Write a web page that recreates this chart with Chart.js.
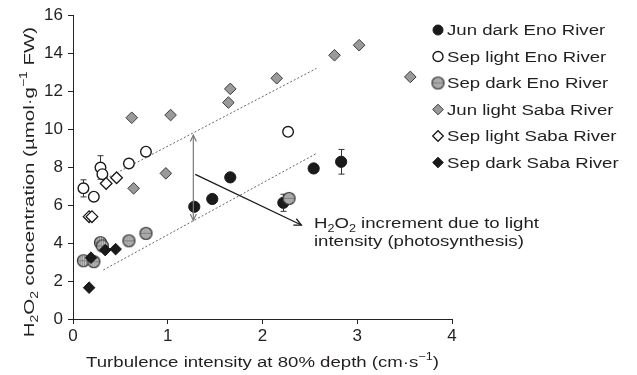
<!DOCTYPE html>
<html>
<head>
<meta charset="utf-8">
<script src="https://cdn.jsdelivr.net/npm/chart.js@4/dist/chart.umd.min.js"></script>
<style>
  html, body { margin: 0; padding: 0; background: #fff; }
  #wrap { width: 637px; height: 375px; }
</style>
</head>
<body>
<div id="wrap"><canvas id="chart" width="637" height="375"></canvas></div>
<script>
// valores
const xTicks = [0, 1, 2, 3, 4];
const yTicks = [0, 2, 4, 6, 8, 10, 12, 14, 16];

const seriesNames = ['Jun dark Eno River', 'Sep light Eno River', 'Sep dark Eno River',
  'Jun light Saba River', 'Sep light Saba River', 'Sep dark Saba River'];

const junDarkEnoX = [1.28, 1.47, 1.66, 2.22, 2.54, 2.83];
const junDarkEnoY = [5.91, 6.32, 7.46, 6.12, 7.93, 8.28];
const junDarkEnoErr = [0, 0, 0, 0.45, 0, 0.65];

const sepLightEnoX = [0.11, 0.22, 0.29, 0.31, 0.59, 0.77, 2.27];
const sepLightEnoY = [6.88, 6.44, 7.98, 7.63, 8.19, 8.81, 9.86];
const sepLightEnoErr = [0.45, 0, 0.62, 0, 0, 0, 0];

const sepDarkEnoX = [0.11, 0.22, 0.29, 0.31, 0.59, 0.77, 2.28];
const sepDarkEnoY = [3.07, 3.02, 4.02, 3.85, 4.12, 4.51, 6.35];

const junLightSabaX = [0.62, 0.64, 0.98, 1.03, 1.64, 1.66, 2.15, 2.76, 3.02, 3.56];
const junLightSabaY = [10.6, 6.88, 7.67, 10.74, 11.4, 12.12, 12.68, 13.89, 14.42, 12.75];

const sepLightSabaX = [0.17, 0.2, 0.35, 0.46];
const sepLightSabaY = [5.39, 5.39, 7.14, 7.44];

const sepDarkSabaX = [0.17, 0.19, 0.34, 0.45];
const sepDarkSabaY = [1.65, 3.23, 3.63, 3.68];

// linhas de tendência (pontilhadas)
const upperTrendX = [0.31, 2.57];
const upperTrendY = [7.3, 13.2];
const lowerTrendX = [0.32, 2.57];
const lowerTrendY = [2.58, 8.72];

// setas e anotação
const vArrowX = [1.27, 1.27];
const vArrowY = [5.2, 9.68];
const dArrowX = [1.29, 2.41];
const dArrowY = [7.62, 4.95];
const noteAnchor = [2.48, 5.0];

const TXT = '#231f20';
const FONT = "'Liberation Sans', Arial, sans-serif";
const TSIZE = 15.5;   // tamanho do texto
const SX = 1.2;       // a fonte original é mais larga que a Arial

function pts(xs, ys) {
  return xs.map((x, i) => ({ x: x, y: ys[i] }));
}

// marcador cinza hachurado
function hatchedMarker(r) {
  const s = 2 * r + 3;
  const c = document.createElement('canvas');
  c.width = s; c.height = s;
  const g = c.getContext('2d');
  const cx = s / 2;
  g.beginPath();
  g.arc(cx, cx, r, 0, Math.PI * 2);
  g.fillStyle = '#8e8e8e';
  g.fill();
  g.save();
  g.clip();
  g.strokeStyle = '#dcdcdc';
  g.lineWidth = 0.8;
  for (let x = cx - r + 1.5; x < cx + r; x += 2.2) {
    g.beginPath(); g.moveTo(x, 0); g.lineTo(x, s); g.stroke();
  }
  g.strokeStyle = '#777';
  g.beginPath(); g.moveTo(0, cx); g.lineTo(s, cx); g.stroke();
  g.restore();
  g.beginPath();
  g.arc(cx, cx, r, 0, Math.PI * 2);
  g.lineWidth = 1.2;
  g.strokeStyle = '#333';
  g.stroke();
  return c;
}
const hatchImg = hatchedMarker(6);

// texto com subscrito/sobrescrito: [texto, tipo]
function richWidth(ctx, parts, size) {
  let w = 0;
  parts.forEach(p => {
    ctx.font = (p[1] ? size * 0.68 : size) + 'px ' + FONT;
    w += ctx.measureText(p[0]).width;
  });
  return w;
}
function drawRich(ctx, parts, x, y, size) {
  let cx = x;
  parts.forEach(p => {
    const small = p[1];
    ctx.font = (small ? size * 0.68 : size) + 'px ' + FONT;
    const dy = small === 'sub' ? size * 0.32 : (small === 'sup' ? -size * 0.35 : 0);
    ctx.fillText(p[0], cx, y + dy);
    cx += ctx.measureText(p[0]).width;
  });
}
// texto esticado na horizontal; align 'left' ou 'center'
function drawWide(ctx, parts, x, y, align, rot, sx) {
  const w = richWidth(ctx, parts, TSIZE);
  ctx.save();
  ctx.translate(x, y);
  if (rot) ctx.rotate(rot);
  ctx.scale(sx || SX, 1);
  drawRich(ctx, parts, align === 'center' ? -w / 2 : 0, 0, TSIZE);
  ctx.restore();
}

function arrowHead(ctx, x1, y1, x2, y2, len) {
  const a = Math.atan2(y2 - y1, x2 - x1);
  const s = 0.45;
  ctx.beginPath();
  ctx.moveTo(x2 - len * Math.cos(a - s), y2 - len * Math.sin(a - s));
  ctx.lineTo(x2, y2);
  ctx.lineTo(x2 - len * Math.cos(a + s), y2 - len * Math.sin(a + s));
  ctx.stroke();
}

const scatterSets = [
  { label: seriesNames[0], data: pts(junDarkEnoX, junDarkEnoY), err: junDarkEnoErr,
    pointStyle: 'circle', pointRadius: 5.6, backgroundColor: '#1a1a1a', borderColor: '#1a1a1a', borderWidth: 1 },
  { label: seriesNames[1], data: pts(sepLightEnoX, sepLightEnoY), err: sepLightEnoErr,
    pointStyle: 'circle', pointRadius: 5.3, backgroundColor: '#fff', borderColor: '#1a1a1a', borderWidth: 1.4 },
  { label: seriesNames[2], data: pts(sepDarkEnoX, sepDarkEnoY),
    pointStyle: hatchImg, pointRadius: 6, backgroundColor: '#8e8e8e', borderColor: '#333', borderWidth: 1 },
  { label: seriesNames[3], data: pts(junLightSabaX, junLightSabaY),
    pointStyle: 'rectRot', pointRadius: 5.8, backgroundColor: '#9a9a9a', borderColor: '#3a3a3a', borderWidth: 1 },
  { label: seriesNames[4], data: pts(sepLightSabaX, sepLightSabaY),
    pointStyle: 'rectRot', pointRadius: 5.8, backgroundColor: '#fff', borderColor: '#1a1a1a', borderWidth: 1.3 },
  { label: seriesNames[5], data: pts(sepDarkSabaX, sepDarkSabaY),
    pointStyle: 'rectRot', pointRadius: 5.8, backgroundColor: '#1a1a1a', borderColor: '#1a1a1a', borderWidth: 1 }
];
scatterSets.forEach((d, i) => {
  d.type = 'scatter';
  d.order = 20 - i;
  d.pointHoverRadius = d.pointRadius;
});

const trendSets = [
  { data: pts(upperTrendX, upperTrendY) },
  { data: pts(lowerTrendX, lowerTrendY) }
].map(d => Object.assign(d, {
  type: 'line', label: '', borderColor: '#666', borderWidth: 1, borderDash: [2, 2],
  pointRadius: 0, fill: false, order: 50, isTrend: true
}));

// barras de erro, desenhadas sob os pontos
const errorBars = {
  id: 'errorBars',
  beforeDatasetsDraw(chart) {
    const ctx = chart.ctx, xs = chart.scales.x, ys = chart.scales.y;
    ctx.save();
    ctx.strokeStyle = '#333';
    ctx.lineWidth = 1;
    chart.data.datasets.forEach(ds => {
      if (!ds.err) return;
      ds.data.forEach((p, i) => {
        const e = ds.err[i];
        if (!e) return;
        const px = Math.round(xs.getPixelForValue(p.x)) + 0.5;
        const top = ys.getPixelForValue(p.y + e);
        const bot = ys.getPixelForValue(p.y - e);
        ctx.beginPath();
        ctx.moveTo(px, top); ctx.lineTo(px, bot);
        ctx.moveTo(px - 3, top); ctx.lineTo(px + 3, top);
        ctx.moveTo(px - 3, bot); ctx.lineTo(px + 3, bot);
        ctx.stroke();
      });
    });
    ctx.restore();
  }
};

// setas, anotação, títulos dos eixos e legenda
const extras = {
  id: 'extras',
  afterDraw(chart) {
    const ctx = chart.ctx, xs = chart.scales.x, ys = chart.scales.y;
    const area = chart.chartArea;
    ctx.save();
    // seta vertical dupla (cinza)
    const vx = xs.getPixelForValue(vArrowX[0]);
    const vy1 = ys.getPixelForValue(vArrowY[0]);
    const vy2 = ys.getPixelForValue(vArrowY[1]);
    ctx.strokeStyle = '#7a7a7a';
    ctx.lineWidth = 1.2;
    ctx.beginPath(); ctx.moveTo(vx, vy1); ctx.lineTo(vx, vy2); ctx.stroke();
    arrowHead(ctx, vx, vy1, vx, vy2, 7);
    arrowHead(ctx, vx, vy2, vx, vy1, 7);
    // seta diagonal preta
    const dx1 = xs.getPixelForValue(dArrowX[0]), dy1 = ys.getPixelForValue(dArrowY[0]);
    const dx2 = xs.getPixelForValue(dArrowX[1]), dy2 = ys.getPixelForValue(dArrowY[1]);
    ctx.strokeStyle = '#1a1a1a';
    ctx.lineWidth = 1.3;
    ctx.beginPath(); ctx.moveTo(dx1, dy1); ctx.lineTo(dx2, dy2); ctx.stroke();
    arrowHead(ctx, dx1, dy1, dx2, dy2, 8);

    ctx.fillStyle = TXT;
    ctx.textBaseline = 'middle';
    ctx.textAlign = 'left';

    // anotação
    const nx = xs.getPixelForValue(noteAnchor[0]) + 6;
    const ny = ys.getPixelForValue(noteAnchor[1]);
    drawWide(ctx, [['H'], ['2', 'sub'], ['O'], ['2', 'sub'], [' increment due to light']], nx, ny, 'left');
    drawWide(ctx, [['intensity (photosynthesis)']], nx, ny + 18, 'left');

    // título do eixo x
    drawWide(ctx, [['Turbulence intensity at 80% depth (cm\u00b7s'], ['\u22121', 'sup'], [')']],
      (area.left + area.right) / 2, 363, 'center');

    // título do eixo y
    drawWide(ctx, [['H'], ['2', 'sub'], ['O'], ['2', 'sub'], [' concentration (\u00b5mol\u00b7g'], ['\u22121', 'sup'], [' FW)']],
      30, (area.top + area.bottom) / 2 + 15, 'center', -Math.PI / 2, 1.32);

    // legenda
    const lx = 438, ly = 30, step = 26.5;
    chart.data.datasets.forEach((ds, i) => {
      if (ds.isTrend) return;
      const y = ly + i * step;
      ctx.fillStyle = ds.backgroundColor;
      ctx.strokeStyle = ds.borderColor;
      ctx.lineWidth = ds.borderWidth;
      Chart.helpers.drawPoint(ctx, {
        pointStyle: ds.pointStyle, radius: ds.pointStyle === 'circle' ? 5 : 5.3,
        rotation: 0, borderWidth: ds.borderWidth
      }, lx, y);
      ctx.fillStyle = TXT;
      drawWide(ctx, [[ds.label]], lx + 9, y + 1, 'left');
    });
    ctx.restore();
  }
};

Chart.defaults.font.family = FONT;
Chart.defaults.font.size = 17;
Chart.defaults.color = TXT;

new Chart(document.getElementById('chart'), {
  type: 'scatter',
  data: { datasets: scatterSets.concat(trendSets) },
  options: {
    responsive: false,
    animation: false,
    events: [],
    layout: { padding: { top: 14, right: 185, left: 0, bottom: 0 } },
    plugins: {
      legend: { display: false },
      tooltip: { enabled: false }
    },
    scales: {
      x: {
        type: 'linear',
        min: xTicks[0], max: xTicks[xTicks.length - 1],
        afterBuildTicks: s => { s.ticks = xTicks.map(v => ({ value: v })); },
        afterFit: s => { s.height = 56; },
        ticks: { padding: 2, color: TXT, font: { size: 17 } },
        grid: { display: true, drawOnChartArea: false, drawTicks: true, tickLength: 5, color: '#222', lineWidth: 1 },
        border: { display: true, color: '#222', width: 1 }
      },
      y: {
        type: 'linear',
        min: yTicks[0], max: yTicks[yTicks.length - 1],
        afterBuildTicks: s => { s.ticks = yTicks.map(v => ({ value: v })); },
        afterFit: s => { s.width = 73; },
        ticks: { padding: 5, color: TXT, font: { size: 17 } },
        grid: { display: true, drawOnChartArea: false, drawTicks: true, tickLength: 5, color: '#222', lineWidth: 1 },
        border: { display: true, color: '#222', width: 1 }
      }
    }
  },
  plugins: [errorBars, extras]
});
</script>
</body>
</html>
